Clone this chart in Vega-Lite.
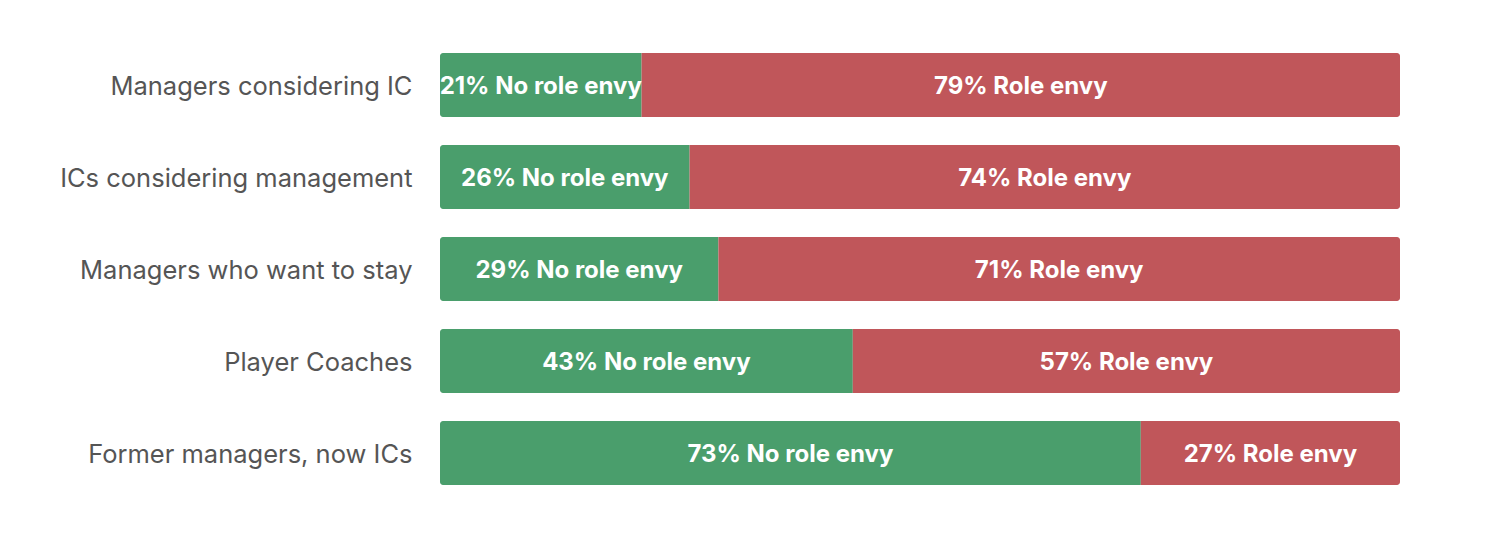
{
  "$schema": "https://vega.github.io/schema/vega-lite/v6.json",
  "width": 960,
  "height": 460,
  "autosize": "none",
  "padding": {"left": 440, "top": 39, "right": 86, "bottom": 43},
  "background": "white",
  "config": {"view": {"stroke": null}, "font": "Inter"},
  "data": {
    "values": [
      {"group": "Managers considering IC", "type": "No role envy", "ord": 1, "pct": 21},
      {"group": "Managers considering IC", "type": "Role envy", "ord": 2, "pct": 79},
      {"group": "ICs considering management", "type": "No role envy", "ord": 1, "pct": 26},
      {"group": "ICs considering management", "type": "Role envy", "ord": 2, "pct": 74},
      {"group": "Managers who want to stay", "type": "No role envy", "ord": 1, "pct": 29},
      {"group": "Managers who want to stay", "type": "Role envy", "ord": 2, "pct": 71},
      {"group": "Player Coaches", "type": "No role envy", "ord": 1, "pct": 43},
      {"group": "Player Coaches", "type": "Role envy", "ord": 2, "pct": 57},
      {"group": "Former managers, now ICs", "type": "No role envy", "ord": 1, "pct": 73},
      {"group": "Former managers, now ICs", "type": "Role envy", "ord": 2, "pct": 27}
    ]
  },
  "transform": [
    {"stack": "pct", "groupby": ["group"], "sort": [{"field": "ord"}], "as": ["x0", "x1"]},
    {"calculate": "(datum.x0 + datum.x1) / 2", "as": "mid"},
    {"calculate": "datum.pct + '% ' + datum.type", "as": "label"}
  ],
  "encoding": {
    "y": {
      "field": "group",
      "type": "nominal",
      "sort": null,
      "title": null,
      "scale": {"paddingInner": 0.304, "paddingOuter": 0.152},
      "axis": {
        "ticks": false,
        "domain": false,
        "labelPadding": 28,
        "labelOffset": 2,
        "labelFontSize": 25.5,
        "labelColor": "#555555",
        "labelFont": "Inter",
        "labelLimit": 500
      }
    }
  },
  "layer": [
    {
      "transform": [{"filter": "datum.ord == 1"}],
      "mark": {"type": "bar", "color": "#4a9e6c", "cornerRadiusTopLeft": 3, "cornerRadiusBottomLeft": 3},
      "encoding": {
        "x": {"field": "x0", "type": "quantitative", "scale": {"domain": [0, 100], "nice": false}, "axis": null},
        "x2": {"field": "x1"}
      }
    },
    {
      "transform": [{"filter": "datum.ord == 2"}],
      "mark": {"type": "bar", "color": "#c0565a", "cornerRadiusTopRight": 3, "cornerRadiusBottomRight": 3},
      "encoding": {
        "x": {"field": "x0", "type": "quantitative"},
        "x2": {"field": "x1"}
      }
    },
    {
      "mark": {"type": "text", "color": "white", "fontSize": 24, "fontWeight": "bold", "font": "Inter", "align": "center", "baseline": "middle", "dy": 2},
      "encoding": {
        "x": {"field": "mid", "type": "quantitative"},
        "text": {"field": "label"}
      }
    }
  ]
}
